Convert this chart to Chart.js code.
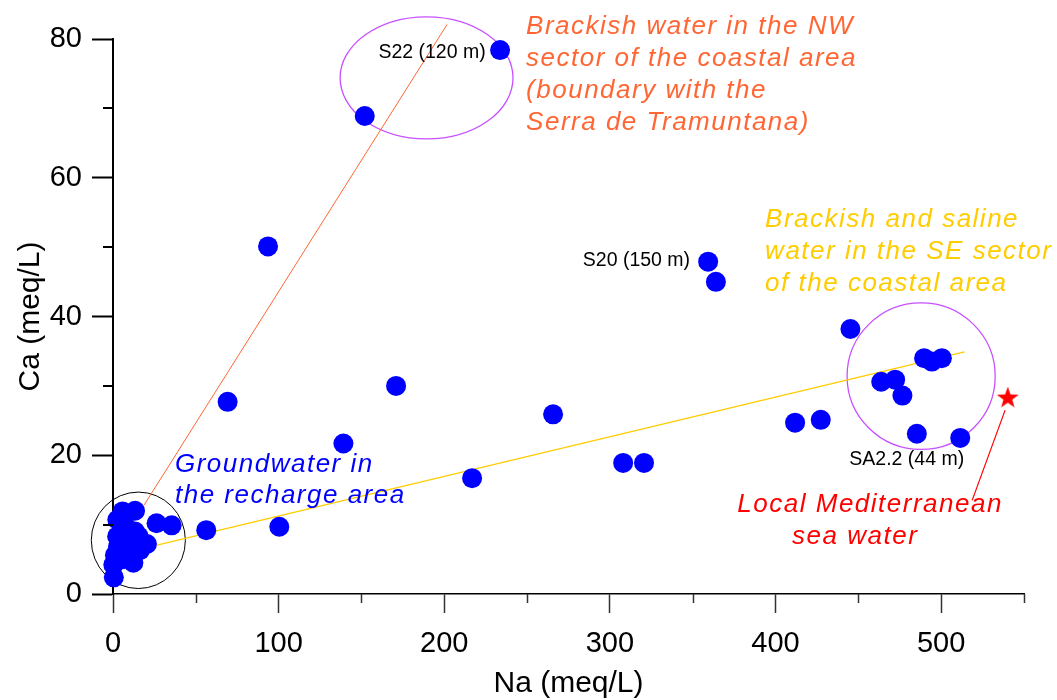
<!DOCTYPE html>
<html><head><meta charset="utf-8">
<script src="https://cdn.jsdelivr.net/npm/chart.js@4.4.0/dist/chart.umd.min.js"></script>
<style>html,body{margin:0;padding:0;background:#fff;}#wrap{width:1057px;height:700px;}</style>
</head><body><div id="wrap"><canvas id="c" width="1057" height="700"></canvas></div>
<script>
// ---- data ----
const naValues = [233.7,152,93.6,359.3,364,445.2,69.2,170.9,265.7,139.1,216.8,308,320.6,56.3,100.4,
  411.8,427.3,463.8,472.2,476.6,489.7,494.4,500.4,485.3,511.5,26.3,35.4,
  0.5,0.2,1.2,3.0,2.5,2.6,5.8,13.3,8.0,13.3,11.0,8.3,16.3,20.5,12.3,7.2,5.0,15.5,10.0];
const caValues = [78.4,68.9,50.1,47.9,45.0,38.2,27.7,30.0,25.9,21.7,16.7,18.9,18.9,9.2,9.7,
  24.7,25.1,30.6,30.9,28.6,34.0,33.5,34.0,23.1,22.5,10.2,9.9,
  2.4,4.2,5.6,6.8,8.3,10.7,11.9,12.0,9.6,9.0,8.0,7.8,6.3,7.2,4.5,6.3,5.0,8.3,5.6];
const seaNa = [540.2];
const seaCa = [28.3];
const nwTrendNa = [18.7, 201.7];
const nwTrendCa = [12.8, 82.1];
const seTrendNa = [26.6, 514.1];
const seTrendCa = [7.06, 34.9];
const arrowNa = [538.6, 518.7];
const arrowCa = [26.5, 13.5];
const xTicks = [0,100,200,300,400,500];
const xMinorTicks = [50,150,250,350,450,550];
const yTicks = [0,20,40,60,80];
const yMinorTicks = [10,30,50,70];
const sampleLabels = ['S22 (120 m)','S20 (150 m)','SA2.2 (44 m)'];
const groupTexts = [
  ['Brackish water in the NW','sector of the coastal area','(boundary with the','Serra de Tramuntana)'],
  ['Brackish and saline','water in the SE sector','of the coastal area'],
  ['Groundwater in','the recharge area'],
  ['Local Mediterranean','sea water']
];

// ---- annotation layout ----
const labelAnchors = [{x:225.0,y:78.0},{x:348.4,y:48.1},{x:513.9,y:19.3}];
const textStyles = [
  {x:249.4,y:81.7,lh:32,color:'#ff6633',align:'left'},
  {x:393.7,y:53.9,lh:32,color:'#ffcc00',align:'left'},
  {x:37.4,y:18.7,lh:31,color:'#0000ff',align:'left'},
  {x:[457.1,448.1],y:12.8,lh:32,color:'#ff0000',align:'center'}
];
const ellipses = [
  {cx:189.3,cy:74.4,rx:52.2,ry:8.8,color:'#c850ff',w:1.3},
  {cx:487.9,cy:31.4,rx:44.7,ry:10.56,color:'#c850ff',w:1.3},
  {cx:15.3,cy:7.74,rx:28.4,ry:6.95,color:'#000000',w:1}
];

const FONT = '"Liberation Sans", Arial, sans-serif';

function toXY(xs, ys){ return xs.map((v,i)=>({x:v,y:ys[i]})); }

// star point image
const star = document.createElement('canvas');
star.width = 26; star.height = 26;
(function(){
  const g = star.getContext('2d');
  g.fillStyle = '#ff0000';
  g.beginPath();
  for (let i=0;i<10;i++){
    const a = -Math.PI/2 + i*Math.PI/5;
    const r = i%2 ? 4.6 : 11.5;
    const px = 13 + r*Math.cos(a), py = 13.5 + r*Math.sin(a);
    if (i===0) g.moveTo(px,py); else g.lineTo(px,py);
  }
  g.closePath(); g.fill();
})();

const overlay = {
  id:'overlay',
  beforeDatasetsDraw(chart){
    const {ctx, scales:{x,y}} = chart;
    ctx.save();
    ellipses.forEach(e=>{
      const cx = x.getPixelForValue(e.cx), cy = y.getPixelForValue(e.cy);
      const rx = Math.abs(x.getPixelForValue(e.cx+e.rx)-cx);
      const ry = Math.abs(y.getPixelForValue(e.cy+e.ry)-cy);
      ctx.beginPath();
      ctx.ellipse(cx,cy,rx,ry,0,0,Math.PI*2);
      ctx.strokeStyle = e.color; ctx.lineWidth = e.w; ctx.stroke();
    });
    ctx.restore();
  },
  afterDatasetsDraw(chart){
    const {ctx, scales:{x,y}} = chart;
    ctx.save();
    // sample labels
    ctx.font = '19.5px ' + FONT;
    ctx.fillStyle = '#000';
    ctx.textAlign = 'right';
    ctx.textBaseline = 'middle';
    sampleLabels.forEach((t,i)=>{
      ctx.fillText(t, x.getPixelForValue(labelAnchors[i].x), y.getPixelForValue(labelAnchors[i].y));
    });
    // group texts
    ctx.font = 'italic 26px ' + FONT;
    try { ctx.letterSpacing = '1.5px'; } catch(e){}
    groupTexts.forEach((lines,i)=>{
      const s = textStyles[i];
      ctx.fillStyle = s.color;
      ctx.textAlign = s.align;
      const y0 = y.getPixelForValue(s.y);
      lines.forEach((t,j)=>{
        const xv = Array.isArray(s.x) ? s.x[j] : s.x;
        ctx.fillText(t, x.getPixelForValue(xv), y0 + j*s.lh);
      });
    });
    ctx.restore();
  },
  afterDraw(chart){
    const {ctx, scales:{x,y}} = chart;
    ctx.save();
    ctx.strokeStyle = '#333'; ctx.lineWidth = 1.5;
    const yb = y.getPixelForValue(0);
    xMinorTicks.forEach(v=>{
      const px = Math.round(x.getPixelForValue(v))+0.5;
      ctx.beginPath(); ctx.moveTo(px,yb); ctx.lineTo(px,yb+9); ctx.stroke();
    });
    ctx.strokeStyle = '#000'; ctx.lineWidth = 2;
    const xl = x.getPixelForValue(0);
    yMinorTicks.forEach(v=>{
      const py = Math.round(y.getPixelForValue(v));
      ctx.beginPath(); ctx.moveTo(xl,py); ctx.lineTo(xl-10,py); ctx.stroke();
    });
    ctx.restore();
  }
};

new Chart(document.getElementById('c'), {
  type:'scatter',
  data:{datasets:[
    {label:'samples', data:toXY(naValues,caValues), backgroundColor:'#0000ff', borderWidth:0, pointRadius:10, pointHoverRadius:10, order:0, clip:false},
    {label:'sea', data:toXY(seaNa,seaCa), pointStyle:star, pointRadius:12, order:0, clip:false},
    {label:'nw', data:toXY(nwTrendNa,nwTrendCa), showLine:true, borderColor:'#ff6633', borderWidth:1, pointRadius:0, order:2, clip:false},
    {label:'se', data:toXY(seTrendNa,seTrendCa), showLine:true, borderColor:'#ffcc00', borderWidth:1.3, pointRadius:0, order:2, clip:false},
    {label:'arrow', data:toXY(arrowNa,arrowCa), showLine:true, borderColor:'#ff0000', borderWidth:1.2, pointRadius:0, order:2, clip:false}
  ]},
  options:{
    responsive:false, animation:false,
    events:[],
    layout:{padding:{top:39,right:33,left:0,bottom:0}},
    plugins:{legend:{display:false}, tooltip:{enabled:false}},
    scales:{
      x:{type:'linear', min:0, max:550,
        afterBuildTicks:s=>{ s.ticks = xTicks.map(v=>({value:v})); },
        afterFit:s=>{ s.height = 106; },
        grid:{drawOnChartArea:false, drawTicks:true, tickLength:19, tickColor:'#333', tickWidth:1.5},
        border:{display:true, color:'#000', width:1.5},
        ticks:{font:{family:FONT,size:29}, color:'#000', padding:14, maxRotation:0, autoSkip:false},
        title:{display:true, text:'Na (meq/L)', font:{family:FONT,size:30}, color:'#000', padding:{top:0,bottom:-2}}
      },
      y:{type:'linear', min:0, max:80,
        afterBuildTicks:s=>{ s.ticks = yTicks.map(v=>({value:v})); },
        afterFit:s=>{ s.width = 113; },
        grid:{drawOnChartArea:false, drawTicks:true, tickLength:21, tickColor:'#000', tickWidth:2},
        border:{display:true, color:'#000', width:2},
        ticks:{font:{family:FONT,size:29}, color:'#000', padding:10, autoSkip:false},
        title:{display:true, text:'Ca (meq/L)', font:{family:FONT,size:30}, color:'#000', padding:{top:13,bottom:0}}
      }
    }
  },
  plugins:[overlay]
});
</script>
</body></html>
